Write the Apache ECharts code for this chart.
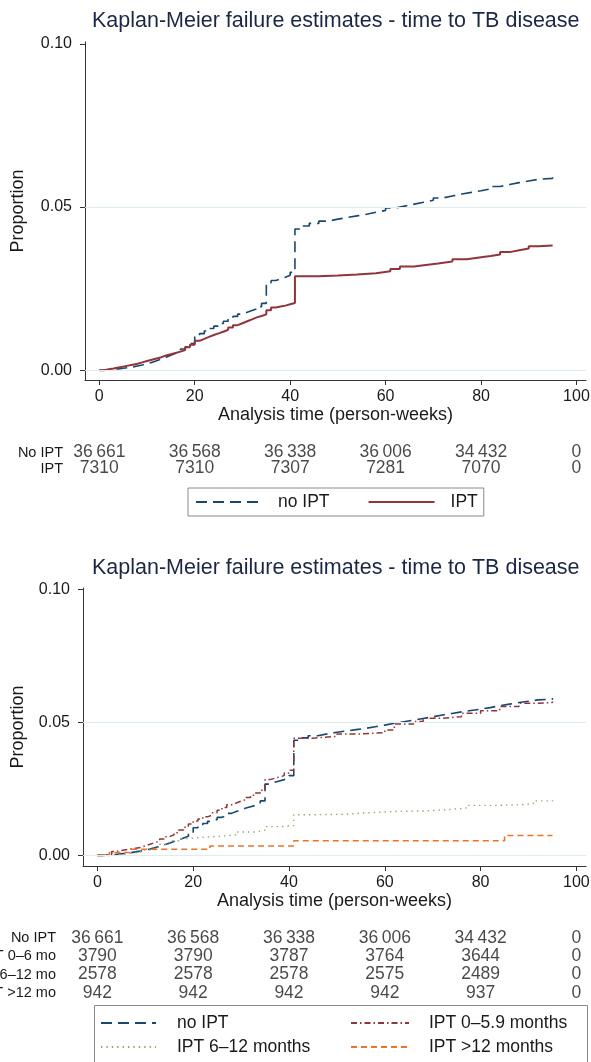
<!DOCTYPE html>
<html><head><meta charset="utf-8">
<script src="https://cdn.jsdelivr.net/npm/echarts@6/dist/echarts.min.js"></script>
<style>html,body{margin:0;padding:0;background:#fff}#c{width:591px;height:1062px}</style>
</head><body><div id="c"></div>
<script>
// ---------- data ----------
const titleText = 'Kaplan-Meier failure estimates - time to TB disease';
const xAxisName = 'Analysis time (person-weeks)';
const yAxisName = 'Proportion';
const xTicks = [0, 20, 40, 60, 80, 100];
const yTicks = [0, 0.05, 0.10];

// no IPT (both panels)
const noIptT = [0,1,2,3,4,5,6,7,8,9,10,11,12,13,14,15,16,17,18,19,20,21,22,23,24,25,26,27,28,29,30,31,32,33,34,35,36,37,38,39,40,41,42,44,46,48,50,52,54,56,58,60,62,64,66,68,70,72,74,76,78,80,82,84,86,88,90,92,95];
const noIptP = [0,0.0001,0.0003,0.0004,0.0006,0.0008,0.0010,0.0013,0.0016,0.0020,0.0024,0.0029,0.0034,0.0040,0.0046,0.0052,0.0058,0.0065,0.0072,0.0082,0.0104,0.0112,0.0120,0.0128,0.0135,0.0143,0.0150,0.0158,0.0165,0.0172,0.0178,0.0183,0.0188,0.0195,0.0205,0.0268,0.0275,0.0280,0.0285,0.0291,0.0300,0.0433,0.0442,0.0450,0.0457,0.0463,0.0468,0.0473,0.0478,0.0484,0.0490,0.0497,0.0503,0.0509,0.0515,0.0521,0.0528,0.0534,0.0540,0.0545,0.0550,0.0556,0.0563,0.0569,0.0575,0.0580,0.0585,0.0588,0.0592];

// IPT (top panel)
const iptT = [0,1,2,3,4,5,6,7,8,9,10,11,12,13,14,15,16,17,18,19,20,21,22,23,24,25,26,27,28,29,30,31,32,33,34,35,36,37,38,39,40,41,46,50,54,58,61,63,66,68,71,74,77,80,82,84,86,88,90,92,95];
const iptP = [0,0.0003,0.0005,0.0008,0.0011,0.0014,0.0017,0.0020,0.0024,0.0028,0.0032,0.0036,0.0040,0.0045,0.0049,0.0053,0.0057,0.0062,0.0070,0.0078,0.0090,0.0096,0.0102,0.0108,0.0113,0.0118,0.0124,0.0131,0.0138,0.0144,0.0150,0.0156,0.0162,0.0166,0.0171,0.0184,0.0192,0.0195,0.0198,0.0202,0.0206,0.0288,0.0290,0.0293,0.0297,0.0303,0.0310,0.0318,0.0322,0.0327,0.0333,0.0340,0.0346,0.0350,0.0355,0.0362,0.0368,0.0373,0.0380,0.0382,0.0383];

// IPT 0-5.9 months (bottom panel)
const ipt06T = [0,1,2,3,4,5,6,7,8,9,10,11,12,13,14,15,16,17,18,19,20,21,22,23,24,25,26,27,28,29,30,31,32,33,34,35,36,37,38,39,40,41,45,50,55,60,62,66,68,72,76,80,84,88,92,95];
const ipt06P = [0,0.0002,0.0004,0.0015,0.0018,0.0021,0.0024,0.0027,0.0030,0.0036,0.0042,0.0048,0.0054,0.0062,0.0070,0.0077,0.0085,0.0095,0.0106,0.0118,0.0129,0.0137,0.0145,0.0152,0.0160,0.0170,0.0180,0.0190,0.0197,0.0204,0.0210,0.0218,0.0226,0.0235,0.0245,0.0285,0.0290,0.0295,0.0300,0.0310,0.0320,0.0441,0.0448,0.0457,0.0462,0.0472,0.0494,0.0504,0.0516,0.0522,0.0535,0.0544,0.0560,0.0572,0.0575,0.0579];

// IPT 6-12 months (bottom panel)
const ipt612T = [0,3,6,9,11,13,15,17,19,22,26,29,33,35,38,41,46,52,56,62,68,73,77,83,88,91,95];
const ipt612P = [0,0.0006,0.0012,0.0020,0.0030,0.0042,0.0055,0.0063,0.0068,0.0072,0.0077,0.0088,0.0095,0.0108,0.0112,0.0153,0.0155,0.0160,0.0165,0.0167,0.0172,0.0178,0.0188,0.0190,0.0195,0.0205,0.0208];

// IPT >12 months (bottom panel)
const ipt12T = [0,2.5,7,23.5,41,85,95];
const ipt12P = [0,0.0011,0.0023,0.0035,0.0055,0.0075,0.0075];

// numbers at risk
const riskTimes = [0, 20, 40, 60, 80, 100];
const topRiskLabels = ['No IPT', 'IPT'];
const topRiskNoIpt = [36661, 36568, 36338, 36006, 34432, 0];
const topRiskIpt = [7310, 7310, 7307, 7281, 7070, 0];
const botRiskLabels = ['No IPT', 'IPT 0\u20136 mo', 'IPT 6\u201312 mo', 'IPT >12 mo'];
const botRiskNoIpt = [36661, 36568, 36338, 36006, 34432, 0];
const botRisk06 = [3790, 3790, 3787, 3764, 3644, 0];
const botRisk612 = [2578, 2578, 2578, 2575, 2489, 0];
const botRisk12 = [942, 942, 942, 942, 937, 0];

const legNoIpt = 'no IPT', legIpt = 'IPT', leg06 = 'IPT 0\u20135.9 months', leg612 = 'IPT 6\u201312 months', leg12 = 'IPT >12 months';

// ---------- styling ----------
const FF = "'Liberation Sans', Arial, sans-serif";
const C_BLUE = '#1a476f', C_RED = '#90353b', C_GREEN = '#8fa874', C_ORANGE = '#e8752a';
const TXT = '#1a1a1a';

function zip(t, p) { return t.map((v, i) => [v, p[i]]); }
function fmtN(n) { return n >= 10000 ? String(n).replace(/(\d+)(\d{3})$/, '$1\u2009$2') : String(n); }

const chart = echarts.init(document.getElementById('c'), null, { renderer: 'canvas' });

function kmX(grid, nameGap) {
  return {
    type: 'value', gridIndex: grid, min: -3, max: 102,
    name: xAxisName, nameLocation: 'middle', nameGap: nameGap,
    nameTextStyle: { fontFamily: FF, fontSize: 18, color: TXT },
    axisLine: { show: true, onZero: false, lineStyle: { color: '#333', width: 1 } },
    axisTick: { show: true, length: 5, customValues: xTicks, lineStyle: { color: '#333' } },
    axisLabel: { customValues: xTicks, fontFamily: FF, fontSize: 16, color: TXT, margin: 9 },
    splitLine: { show: false }
  };
}
function kmY(grid, min, nameGap) {
  return {
    type: 'value', gridIndex: grid, min: min, max: 0.1006,
    name: yAxisName, nameLocation: 'middle', nameGap: nameGap, nameRotate: 90,
    nameTextStyle: { fontFamily: FF, fontSize: 18, color: TXT },
    axisLine: { show: true, onZero: false, lineStyle: { color: '#333', width: 1 } },
    axisTick: { show: true, length: 5, customValues: yTicks, lineStyle: { color: '#333' } },
    axisLabel: { customValues: yTicks, formatter: v => v.toFixed(2), fontFamily: FF, fontSize: 16, color: TXT, margin: 13 },
    splitLine: { show: false }
  };
}
function riskX(grid) {
  return { type: 'value', gridIndex: grid, min: -3, max: 102, show: false };
}
function riskY(grid, labels, margin, lowered) {
  return {
    type: 'category', gridIndex: grid, inverse: true,
    data: labels.map(l => lowered.indexOf(l) >= 0 ? { value: l, textStyle: { padding: [10, 0, 0, 0] } } : l),
    axisLine: { show: false }, axisTick: { show: false },
    axisLabel: { interval: 0, fontFamily: FF, fontSize: 14.5, color: TXT, margin: margin }
  };
}
function riskSeries(xi, yi, label, counts) {
  return {
    type: 'scatter', xAxisIndex: xi, yAxisIndex: yi, silent: true,
    symbolSize: 1, itemStyle: { color: 'rgba(255,255,255,0)' },
    data: riskTimes.map((t, i) => [t, label, counts[i]]),
    label: { show: true, position: 'inside', formatter: p => fmtN(p.value[2]), fontFamily: FF, fontSize: 17.5, color: TXT },
    emphasis: { disabled: true }
  };
}
function km(name, xi, yi, t, p, color, type, width, grid) {
  const s = {
    type: 'line', name: name, xAxisIndex: xi, yAxisIndex: yi, step: 'end',
    symbol: 'none', silent: true, data: zip(t, p),
    lineStyle: { color: color, type: type, width: width },
    itemStyle: { color: color }, emphasis: { disabled: true }
  };
  if (grid) {
    s.markLine = {
      silent: true, symbol: 'none', label: { show: false },
      lineStyle: { color: '#dcecf0', type: 'solid', width: 1 },
      data: [{ yAxis: 0 }, { yAxis: 0.05 }]
    };
    s.z = 3;
  }
  return s;
}

const legItem = { opacity: 0 };
const option = {
  animation: false,
  backgroundColor: '#fff',
  title: [
    { text: titleText, left: 87, top: 5, textStyle: { fontFamily: FF, fontSize: 21.5, fontWeight: 'normal', color: '#1c2745' } },
    { text: titleText, left: 87, top: 552, textStyle: { fontFamily: FF, fontSize: 21.5, fontWeight: 'normal', color: '#1c2745' } }
  ],
  grid: [
    { left: 85, top: 42, width: 501, height: 338, outerBoundsMode: 'none' },
    { left: 83, top: 588, width: 503, height: 278, outerBoundsMode: 'none' },
    { left: 85, top: 444.5, width: 501, height: 32, outerBoundsMode: 'none' },
    { left: 83, top: 929, width: 503, height: 73, outerBoundsMode: 'none' }
  ],
  xAxis: [kmX(0, 23), kmX(1, 26), riskX(2), riskX(3)],
  yAxis: [kmY(0, -0.003, 58), kmY(1, -0.004, 56), riskY(2, topRiskLabels, 22, ['IPT']), riskY(3, botRiskLabels, 27, [])],
  legend: [
    {
      data: [legNoIpt, legIpt], left: 188, top: 488, orient: 'horizontal',
      itemWidth: 66, itemHeight: 14, itemGap: 38, itemStyle: legItem,
      borderColor: '#8a8a8a', borderWidth: 1, padding: [5, 6, 5, 7],
      textStyle: { fontFamily: FF, fontSize: 17.5, color: TXT, padding: [0, 0, 0, 11] },
      selectedMode: false
    },
    {
      data: [legNoIpt, leg612], left: 100, top: 1014, orient: 'vertical',
      itemWidth: 55, itemHeight: 14, itemGap: 6, padding: 0, itemStyle: legItem,
      textStyle: { fontFamily: FF, fontSize: 17.5, color: TXT, padding: [0, 0, 0, 16] },
      selectedMode: false
    },
    {
      data: [leg06, leg12], left: 350, top: 1014, orient: 'vertical',
      itemWidth: 58, itemHeight: 14, itemGap: 6, padding: 0, itemStyle: legItem,
      textStyle: { fontFamily: FF, fontSize: 17.5, color: TXT, padding: [0, 0, 0, 15] },
      selectedMode: false
    }
  ],
  graphic: [
    { type: 'rect', left: 92, top: 1003, shape: { width: 493, height: 70 }, style: { fill: 'none', stroke: '#8a8a8a', lineWidth: 1 }, silent: true }
  ],
  series: [
    km(legNoIpt, 0, 0, noIptT, noIptP, C_BLUE, [11, 6], 1.6, true),
    km(legIpt, 0, 0, iptT, iptP, C_RED, 'solid', 2),
    km(legNoIpt, 1, 1, noIptT, noIptP, C_BLUE, [11, 6], 1.6, true),
    km(leg06, 1, 1, ipt06T, ipt06P, C_RED, [6, 3, 1.5, 3], 1.5),
    km(leg612, 1, 1, ipt612T, ipt612P, C_GREEN, [1.4, 4], 1.4),
    km(leg12, 1, 1, ipt12T, ipt12P, C_ORANGE, [6, 4], 1.6),
    riskSeries(2, 2, topRiskLabels[0], topRiskNoIpt),
    riskSeries(2, 2, topRiskLabels[1], topRiskIpt),
    riskSeries(3, 3, botRiskLabels[0], botRiskNoIpt),
    riskSeries(3, 3, botRiskLabels[1], botRisk06),
    riskSeries(3, 3, botRiskLabels[2], botRisk612),
    riskSeries(3, 3, botRiskLabels[3], botRisk12)
  ]
};
chart.setOption(option);
</script>
</body></html>
